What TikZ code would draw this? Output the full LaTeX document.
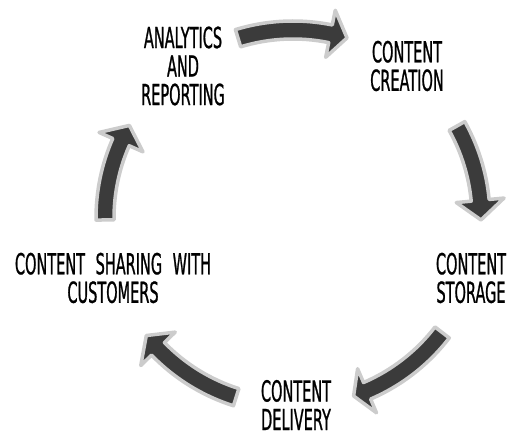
\documentclass[tikz,border=0pt]{standalone}
\usepackage{fontspec}
\newfontfamily\stagefont[FakeStretch=0.5,FakeBold=0.8,WordSpace=2.3]{DejaVu Sans}

\tikzset{
  stage/.style={align=center, inner sep=0pt,
    font=\stagefont\fontsize{29}{28.5}\selectfont},
  cyclearrow/.style={fill=black!77, draw=black!20, line width=3.5pt, line join=round}
}

% curved block arrow round the hub: tail angle, head base angle, tip angle
\newcommand{\bentarrow}[3]{%
  \path[cyclearrow] (#1:179pt) arc[start angle=#1, end angle=#2, radius=179pt]
    -- (#2:164pt) -- (#3:188pt) -- (#2:212pt)
    -- (#2:197pt) arc[start angle=#2, end angle=#1, radius=197pt] -- cycle;
}

\begin{document}
\begin{tikzpicture}[x=1pt,y=1pt]
  \useasboundingbox (0,0) rectangle (508,436);
  \coordinate (hub) at (293,218);

  % the five stages
  \node[stage] (analytics) at (183,370) {ANALYTICS\\AND\\REPORTING};
  \node[stage] (creation) at (407,370) {CONTENT\\CREATION};
  \node[stage] (storage) at (471,158) {CONTENT\\STORAGE};
  \node[stage] (delivery) at (296,31) {CONTENT\\DELIVERY};
  \node[stage] (sharing) at (113,158) {CONTENT SHARING WITH\\CUSTOMERS};

  % arrows going round clockwise
  \begin{scope}[shift={(hub)}]
    \bentarrow{107}{78.5}{73.3}
    \bentarrow{29.3}{5.4}{-0.6}
    \bentarrow{-37.5}{-66.8}{-71.2}
    \bentarrow{-107.6}{-135.9}{-141.3}
    \bentarrow{180.6}{156.2}{150.5}
  \end{scope}
\end{tikzpicture}
\end{document}
